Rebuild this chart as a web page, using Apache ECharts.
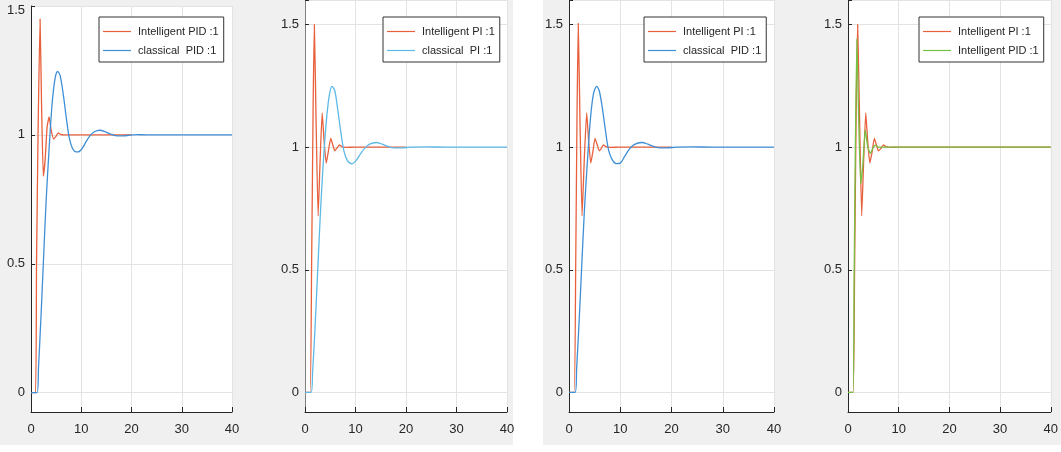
<!DOCTYPE html>
<html><head><meta charset="utf-8">
<script src="https://cdn.jsdelivr.net/npm/echarts@6/dist/echarts.min.js"></script>
<style>html,body{margin:0;padding:0;background:#fff}#c{width:1061px;height:452px}</style>
</head><body><div id="c"></div>
<script>
// ---- data ----
const xTickLabels = ['0','10','20','30','40'];

// Panel 1
const p1RedName = 'Intelligent PID :1';
const p1RedT = [0,0.9,1.1,1.4,1.8,2.1,2.45,2.8,3.2,3.6,4.0,4.5,5.0,5.4,5.9,6.5,8,10,14,20];
const p1RedY = [0,0,0.5,1.0,1.45,1.12,0.84,0.9,1.03,1.07,1.02,0.984,0.995,1.008,1.002,1.0,1.0,1.0,1.0,1.0];
const p1BlueName = 'classical  PID :1';
const p1BlueT = [0,1.2,1.5,2.0,2.45,3.0,3.6,4.2,4.8,5.3,5.8,6.4,7.0,7.6,8.2,8.8,9.4,10.2,11.0,11.8,12.6,13.7,14.8,16.0,17.2,18.4,19.6,21,23,26,30,35,40];
const p1BlueY = [0,0,0.1,0.3,0.5,0.74,0.945,1.12,1.22,1.246,1.23,1.16,1.07,0.99,0.95,0.935,0.934,0.948,0.975,0.998,1.012,1.018,1.012,1.002,0.996,0.996,0.999,1.001,1.0,1.0,1.0,1.0,1.0];

// Panel 2
const p2RedName = 'Intelligent PI :1';
const p2RedT = [0,1.0,1.3,1.6,1.85,2.2,2.6,3.0,3.4,3.8,4.2,4.6,5.1,5.5,5.9,6.3,6.8,7.3,8,10,14,20];
const p2RedY = [0,0,0.5,1.15,1.5,1.1,0.72,0.95,1.14,1.02,0.935,0.98,1.036,1.01,0.985,0.995,1.009,1.002,0.999,1.0,1.0,1.0];
const p2BlueName = 'classical  PI :1';
const p2BlueT = [0,1.2,1.5,2.0,2.5,3.0,3.6,4.2,4.8,5.35,5.9,6.5,7.1,7.7,8.4,9.3,10.1,10.9,11.8,12.8,14.1,15.3,16.5,17.7,19,21,24,28,32,36,40];
const p2BlueY = [0,0,0.08,0.27,0.49,0.71,0.93,1.1,1.21,1.248,1.23,1.15,1.06,0.985,0.945,0.932,0.945,0.97,0.995,1.012,1.019,1.012,1.002,0.997,0.997,1.0,1.001,1.0,1.0,1.0,1.0];

// Panel 3
const p3RedName = 'Intelligent PI :1';
const p3RedT = [0,1.0,1.3,1.55,1.8,2.15,2.55,3.0,3.45,3.85,4.25,4.65,5.07,5.5,5.9,6.3,6.7,7.2,8,10,14,20];
const p3RedY = [0,0,0.5,1.1,1.505,1.1,0.72,0.96,1.14,1.02,0.935,0.98,1.036,1.01,0.985,0.995,1.009,1.002,0.999,1.0,1.0,1.0];
const p3BlueName = 'classical  PID :1';
const p3BlueT = [0,1.2,1.5,2.0,2.45,3.0,3.6,4.2,4.8,5.4,5.9,6.5,7.1,7.7,8.4,9.2,10.0,10.8,11.7,12.7,14.2,15.4,16.6,17.8,19,21,24,28,32,36,40];
const p3BlueY = [0,0,0.1,0.3,0.5,0.74,0.945,1.12,1.22,1.248,1.23,1.16,1.07,0.99,0.95,0.933,0.935,0.96,0.99,1.01,1.019,1.012,1.002,0.997,0.997,1.0,1.001,1.0,1.0,1.0,1.0];

// Panel 4
const p4RedName = 'Intelligent PI :1';
const p4RedT = [0,1.0,1.3,1.6,1.9,2.3,2.7,3.1,3.5,3.9,4.3,4.75,5.2,5.6,6.0,6.5,7.0,7.5,8.2,10,15,20,25,30,35,40];
const p4RedY = [0,0,0.5,1.12,1.5,1.1,0.72,0.95,1.14,1.02,0.935,0.98,1.036,1.01,0.985,0.995,1.009,1.002,0.999,1.0,1.0,1.0,1.0,1.0,1.0,1.0];
const p4GreenName = 'Intelligent PID :1';
const p4GreenT = [0,1.0,1.2,1.45,1.75,2.1,2.5,2.9,3.4,3.9,4.4,4.9,5.4,6.0,7.0,8,10,15,20,25,30,35,40];
const p4GreenY = [0,0,0.45,1.0,1.44,1.12,0.85,0.92,1.07,1.0,0.975,0.995,1.008,1.0,1.0,1.0,1.0,1.0,1.0,1.0,1.0,1.0,1.0];

// ---- styles / layout ----
const RED = '#e8603c', BLUE = '#3f8fd6', LBLUE = '#5db9e6', GREEN = '#76c043';
const FONT = '"Liberation Sans", Arial, sans-serif';
const TXT = '#262626';

const zip = (t, y) => t.map((v, i) => [v, y[i]]);

const panels = [
  {grid:{left:31, top:6, width:201, height:406}, ymin:-0.075, ymax:1.5, yAxisColor:TXT, topPad:true,
   legend:{left:99, top:17}, series:[[p1RedName,p1RedT,p1RedY,RED,0.15],[p1BlueName,p1BlueT,p1BlueY,BLUE,0.3]]},
  {grid:{left:305, top:-2, width:202, height:414}, ymin:-0.08, ymax:1.6, yAxisColor:'#808080',
   legend:{left:383, top:17}, series:[[p2RedName,p2RedT,p2RedY,RED,0.15],[p2BlueName,p2BlueT,p2BlueY,LBLUE,0.3]]},
  {grid:{left:569, top:-2, width:205, height:414}, ymin:-0.08, ymax:1.6, yAxisColor:TXT,
   legend:{left:644, top:17}, series:[[p3RedName,p3RedT,p3RedY,RED,0.15],[p3BlueName,p3BlueT,p3BlueY,BLUE,0.3]]},
  {grid:{left:848, top:-2, width:206, height:414}, ymin:-0.08, ymax:1.6, yAxisColor:TXT,
   legend:{left:919, top:17}, series:[[p4RedName,p4RedT,p4RedY,RED,0.15],[p4GreenName,p4GreenT,p4GreenY,GREEN,0.15]]}
];

const option = {
  backgroundColor:'#ffffff',
  animation:false,
  graphic:[
    {type:'rect', z:-10, silent:true, shape:{x:0,y:0,width:513,height:445}, style:{fill:'#f0f0f0'}},
    {type:'rect', z:-10, silent:true, shape:{x:543,y:0,width:518,height:445}, style:{fill:'#f0f0f0'}}
  ],
  grid:[], xAxis:[], yAxis:[], legend:[], series:[]
};

panels.forEach((p, i) => {
  option.grid.push(Object.assign({show:true, backgroundColor:'#ffffff', borderWidth:0, containLabel:false}, p.grid));
  option.xAxis.push({
    type:'value', gridIndex:i, min:0, max:40, interval:10,
    axisLine:{show:true, onZero:false, lineStyle:{color:TXT, width:1}},
    axisTick:{show:true, inside:true, length:5, lineStyle:{color:TXT}},
    axisLabel:{margin:11, fontSize:13, color:TXT, fontFamily:FONT,
      formatter:v => xTickLabels[Math.round(v/10)] ?? ''},
    splitLine:{show:true, lineStyle:{color:'#e3e3e3', width:1}}
  });
  option.yAxis.push({
    type:'value', gridIndex:i, min:p.ymin, max:p.ymax, splitNumber:3,
    axisLine:{show:true, onZero:false, lineStyle:{color:p.yAxisColor, width:1}},
    axisTick:{show:true, inside:true, length:4, lineStyle:{color:TXT}},
    axisLabel:{margin:6, fontSize:13, color:TXT, fontFamily:FONT, showMinLabel:false,
      rich:{top:{fontSize:13, color:TXT, fontFamily:FONT, padding:[8,0,0,0]}},
      formatter:v => {
        if (!(Math.abs(v*2 - Math.round(v*2)) < 1e-6 && v >= 0 && v <= 1.5)) return '';
        const s = String(Math.round(v*2)/2);
        return (p.topPad && Math.abs(v - 1.5) < 1e-6) ? '{top|' + s + '}' : s;
      }},
    splitLine:{show:true, lineStyle:{color:'#e3e3e3', width:1}}
  });
  option.legend.push({
    show:true, type:'plain',
    left:p.legend.left, top:p.legend.top, orient:'vertical',
    backgroundColor:'#ffffff', borderColor:'#333333', borderWidth:1, borderRadius:0,
    padding:[8,5,5,4], itemWidth:28, itemHeight:1.2, itemGap:6,
    textStyle:{fontSize:11, color:TXT, fontFamily:FONT, lineHeight:13, padding:[0,0,0,2]},
    data:p.series.map(s => ({name:s[0], icon:'rect', itemStyle:{color:s[3], borderWidth:0}}))
  });
  p.series.forEach(s => {
    option.series.push({
      type:'line', name:s[0], xAxisIndex:i, yAxisIndex:i,
      data:zip(s[1], s[2]), symbol:'none', smooth:s[4],
      lineStyle:{color:s[3], width:1.3}, itemStyle:{color:s[3]}
    });
  });
});

const chart = echarts.init(document.getElementById('c'), null, {renderer:'canvas'});
chart.setOption(option);
</script></body></html>
